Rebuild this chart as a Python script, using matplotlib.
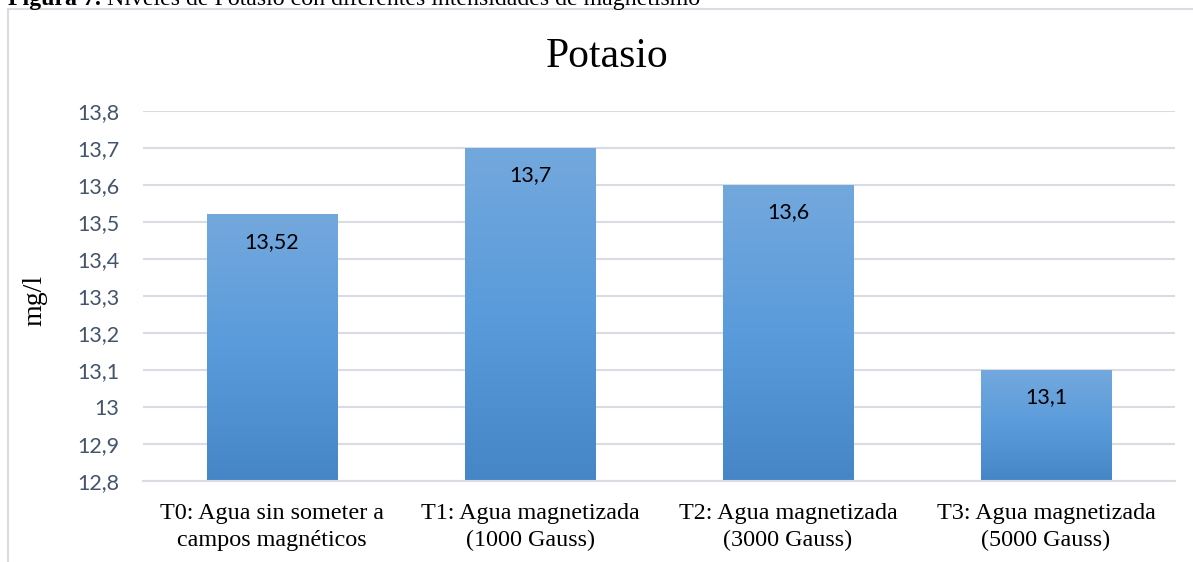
import numpy as np
import matplotlib
matplotlib.use("Agg")
import matplotlib.pyplot as plt
from matplotlib.colors import LinearSegmentedColormap
from matplotlib.patches import Rectangle

categories = ["T0: Agua sin someter a\ncampos magnéticos",
              "T1: Agua magnetizada\n(1000 Gauss)",
              "T2: Agua magnetizada\n(3000 Gauss)",
              "T3: Agua magnetizada\n(5000 Gauss)"]
values = [13.52, 13.7, 13.6, 13.1]
value_labels = ["13,52", "13,7", "13,6", "13,1"]
yticks = [12.8, 12.9, 13.0, 13.1, 13.2, 13.3, 13.4, 13.5, 13.6, 13.7, 13.8]
ytick_labels = ["12,8", "12,9", "13", "13,1", "13,2", "13,3", "13,4", "13,5", "13,6", "13,7", "13,8"]
title = "Potasio"
ylabel = "mg/l"
caption_bold = "Figura 7."
caption_rest = " Niveles de Potasio con diferentes intensidades de magnetismo"

W, H = 1193, 562
fig = plt.figure(figsize=(W / 100, H / 100), dpi=100)
fig.patch.set_facecolor("white")

# chart border (extends beyond right and bottom edges)
fig.add_artist(Rectangle((8 / W, -0.1), 1.2, 1 - 9 / H + 0.1, transform=fig.transFigure,
                         facecolor="none", edgecolor="#D9DDE3", linewidth=1.5))

# partially cropped caption at top
cb = fig.text(8 / W, 1 - 5 / H, caption_bold, fontsize=17.2, family="Liberation Serif",
              weight="bold", va="baseline", ha="left")
renderer = fig.canvas.get_renderer()
bb = cb.get_window_extent(renderer)
fig.text(bb.x1 / W, 1 - 5 / H, caption_rest, fontsize=17.2, family="Liberation Serif",
         va="baseline", ha="left")

ax = fig.add_axes([143 / W, 1 - 481 / H, (1175 - 143) / W, (481 - 111) / H])
x = np.arange(len(categories))
bars = ax.bar(x, [v - 12.8 for v in values], bottom=12.8, width=0.504, color="none",
              edgecolor="none", zorder=2)

cmap = LinearSegmentedColormap.from_list("g", ["#4686C7", "#5A9BDB", "#73A8DD"])
grad = np.linspace(0, 1, 256).reshape(-1, 1)
for b in bars:
    x0, y0 = b.get_x(), b.get_y()
    ax.imshow(grad, extent=[x0, x0 + b.get_width(), y0, y0 + b.get_height()],
              origin="lower", aspect="auto", cmap=cmap, zorder=2)

for b, lab in zip(bars, value_labels):
    ax.text(b.get_x() + b.get_width() / 2, b.get_y() + b.get_height() - 0.074, lab,
            ha="center", va="center", fontsize=15.5, family="Lato", color="black", zorder=3)

ax.set_xlim(-0.5, len(categories) - 0.5)
ax.set_ylim(12.8, 13.8)
ax.set_yticks(yticks)
ax.set_yticklabels(ytick_labels, family="Lato", fontsize=15.5, color="#44546A")
ax.set_xticks(x)
ax.set_xticklabels(categories, family="Liberation Serif", fontsize=17.4, color="black",
                   linespacing=1.35)
ax.tick_params(axis="both", length=0)
ax.tick_params(axis="y", pad=17)
ax.tick_params(axis="x", pad=16)
ax.grid(axis="y", color="#D9DDE3", linewidth=1.5, zorder=0)
ax.set_axisbelow(True)
for s in ["top", "right", "left"]:
    ax.spines[s].set_visible(False)
ax.spines["bottom"].set_color("#D9DDE3")
ax.spines["bottom"].set_linewidth(1.5)

fig.text(607 / W, 1 - 57 / H, title, ha="center", va="center", fontsize=30,
         family="Liberation Serif")
fig.text(35 / W, 1 - 300 / H, ylabel, ha="center", va="center", rotation=90, fontsize=20,
         family="Liberation Serif")

fig.savefig("out.png", dpi=100)
